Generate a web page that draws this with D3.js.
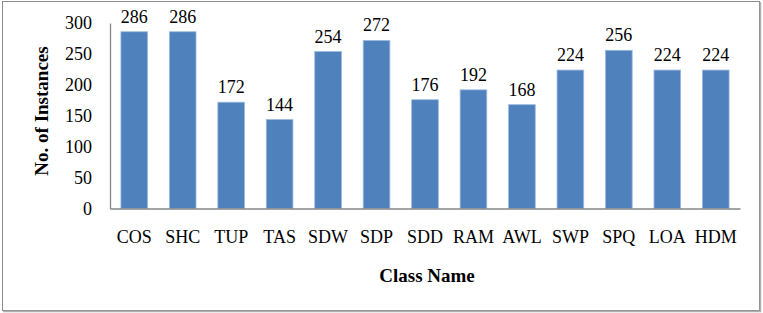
<!DOCTYPE html>
<html>
<head>
<meta charset="utf-8">
<script src="https://cdn.jsdelivr.net/npm/d3@7"></script>
<style>
  body { margin: 0; background: #fff; }
  text { font-family: "Liberation Serif", "Times New Roman", serif; fill: #000; }
</style>
</head>
<body>
<svg id="chart" width="763" height="313"></svg>
<script>
const classes = ["COS", "SHC", "TUP", "TAS", "SDW", "SDP", "SDD", "RAM", "AWL", "SWP", "SPQ", "LOA", "HDM"];
const instances = [286, 286, 172, 144, 254, 272, 176, 192, 168, 224, 256, 224, 224];
const yTicks = [0, 50, 100, 150, 200, 250, 300];

const svg = d3.select("#chart");

// outer frame
svg.append("rect")
  .attr("x", 2.5).attr("y", 1.5)
  .attr("width", 757).attr("height", 309)
  .attr("fill", "none")
  .attr("stroke", "#8c8c8c")
  .attr("stroke-width", 1);
svg.append("path")
  .attr("d", "M3,311.5H760.5V2")
  .attr("fill", "none")
  .attr("stroke", "#b0b0b0")
  .attr("stroke-width", 1.5);

const plotLeft = 110, plotRight = 740, plotTop = 23.1, plotBottom = 208.5;

const x = d3.scaleBand()
  .domain(classes)
  .range([plotLeft, plotRight])
  .paddingInner(0.45)
  .paddingOuter(0.225);

const y = d3.scaleLinear()
  .domain([0, 300])
  .range([plotBottom, plotTop]);

const g = svg.append("g");

g.selectAll("rect.bar")
  .data(classes)
  .join("rect")
  .attr("class", "bar")
  .attr("x", d => x(d))
  .attr("y", (d, i) => y(instances[i]))
  .attr("width", x.bandwidth())
  .attr("height", (d, i) => plotBottom - y(instances[i]))
  .attr("fill", "#4f81bd")
  .attr("stroke", "#9bbbe0")
  .attr("stroke-width", 0.8);

g.selectAll("text.val")
  .data(classes)
  .join("text")
  .attr("class", "val")
  .attr("x", d => x(d) + x.bandwidth() / 2)
  .attr("y", (d, i) => y(instances[i]) - 9)
  .attr("text-anchor", "middle")
  .style("font-size", "18px")
  .text((d, i) => instances[i]);

// y axis
const yAxis = g.append("g")
  .attr("transform", `translate(${plotLeft},0)`)
  .attr("font-family", null)
  .call(d3.axisLeft(y).tickValues(yTicks).tickSize(0).tickPadding(18));
yAxis.attr("font-family", "Liberation Serif").attr("font-size", 18);
yAxis.select(".domain").attr("stroke", "#868686").attr("stroke-width", 1.3);
yAxis.selectAll("text").attr("fill", "#000");

// x axis
const xAxis = g.append("g")
  .attr("transform", `translate(0,${plotBottom})`)
  .call(d3.axisBottom(x).tickSize(0).tickPadding(22));
xAxis.attr("font-family", "Liberation Serif").attr("font-size", 18);
xAxis.select(".domain").attr("stroke", "#868686").attr("stroke-width", 1.3);
xAxis.selectAll("text").attr("fill", "#000");

svg.append("text")
  .attr("x", 427)
  .attr("y", 282)
  .attr("text-anchor", "middle")
  .style("font-size", "19px")
  .style("font-weight", "bold")
  .text("Class Name");

svg.append("text")
  .attr("transform", "translate(48,111) rotate(-90)")
  .attr("text-anchor", "middle")
  .style("font-size", "19px")
  .style("font-weight", "bold")
  .text("No. of Instances");
</script>
</body>
</html>
